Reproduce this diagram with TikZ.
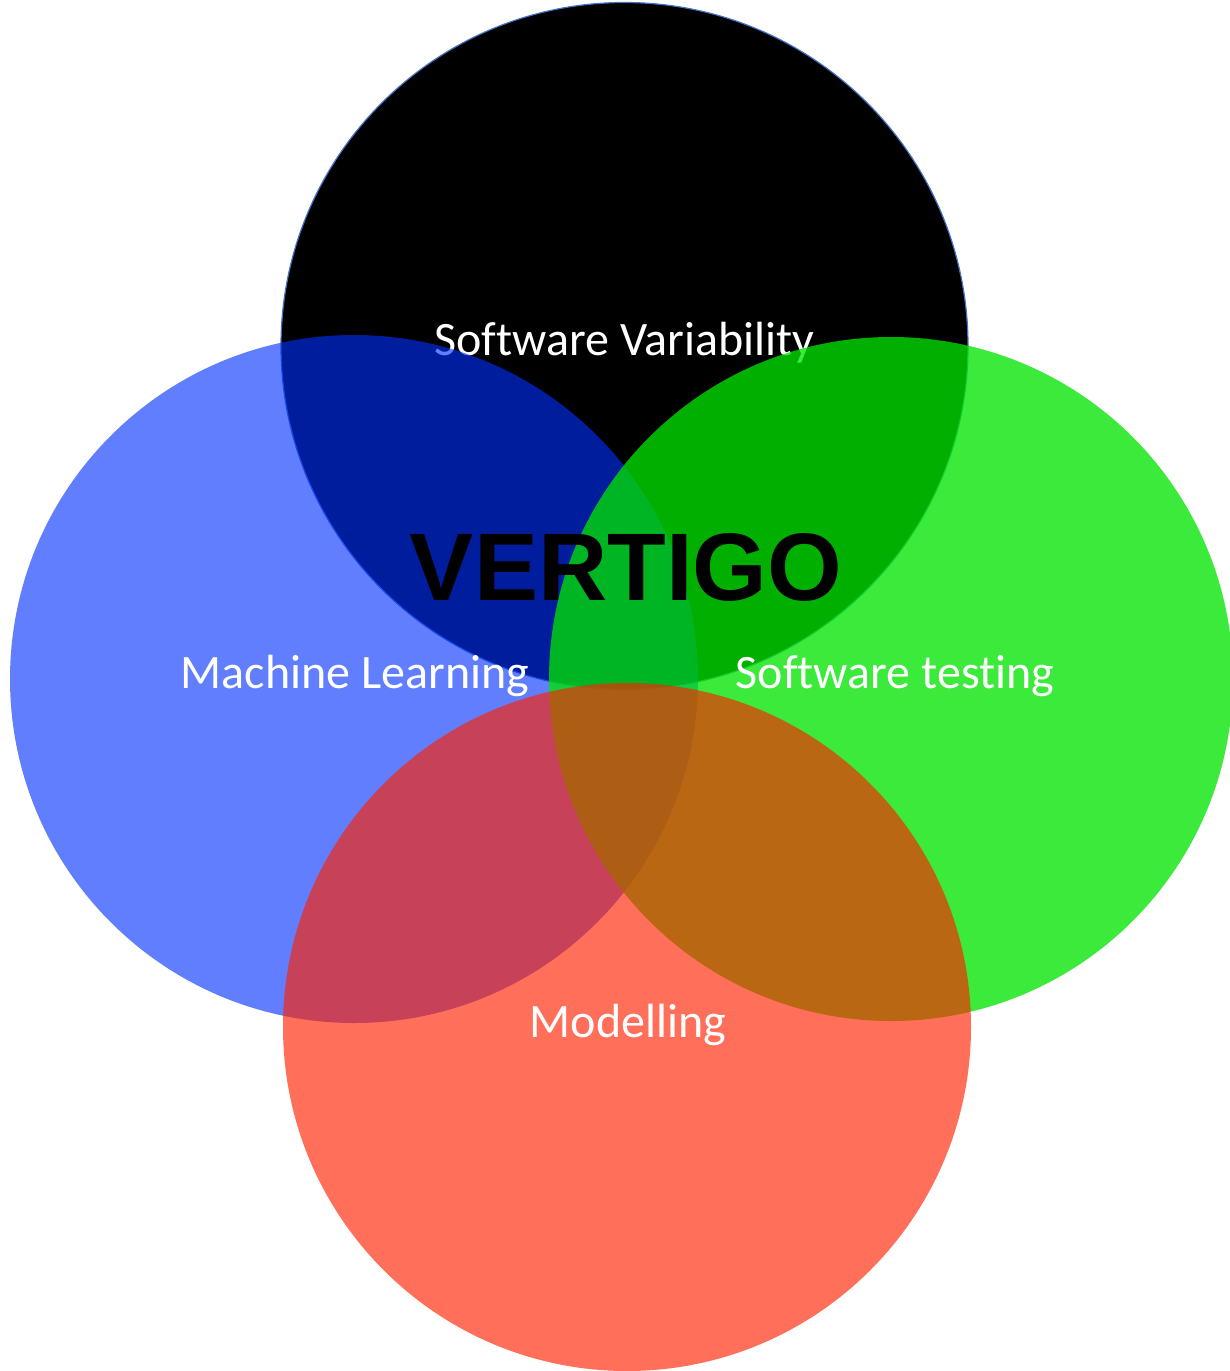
\documentclass[tikz,border=0pt]{standalone}
\usepackage{fontspec}
\setmainfont[Ligatures=NoCommon]{Carlito}
\newfontfamily\arialfont{Liberation Sans}
\definecolor{cblue}{RGB}{0,48,255}
\definecolor{cgreen}{RGB}{0,228,0}
\definecolor{cred}{RGB}{255,34,0}
\definecolor{cedge}{RGB}{68,114,196}
\tikzset{
  lbl/.style={anchor=base, inner sep=0pt, text=white, font=\fontsize{24}{29}\selectfont},
  title/.style={anchor=base, inner sep=0pt, text=black, font=\arialfont\bfseries\fontsize{48}{56}\selectfont},
}
\begin{document}
\begin{tikzpicture}[x=0.5pt,y=-0.5pt]
\useasboundingbox (0,0) rectangle (1230,1371);
\fill[white] (0,0) rectangle (1230,1371);
% black circle
\fill[black] (624.5,346) circle[radius=171.75pt];
\draw[cedge, line width=0.6pt] (624.5,346) circle[radius=171.75pt];
\node[lbl] (sv) at (624.5,355) {Software Variability};
% blue circle
\fill[cblue, fill opacity=0.62] (354,679) circle[radius=172pt];
\node[lbl] (ml) at (355,688) {Machine Learning};
% green circle
\fill[cgreen, fill opacity=0.77] (891,679) circle[radius=171pt];
\node[lbl] (st) at (895,688) {Software testing};
% red circle
\fill[cred, fill opacity=0.65] (627,1027) circle[radius=172pt];
\node[lbl] (mo) at (628,1037) {Modelling};
% title
\node[title] (vt) at (626,600) {VERTIGO};
\end{tikzpicture}
\end{document}
